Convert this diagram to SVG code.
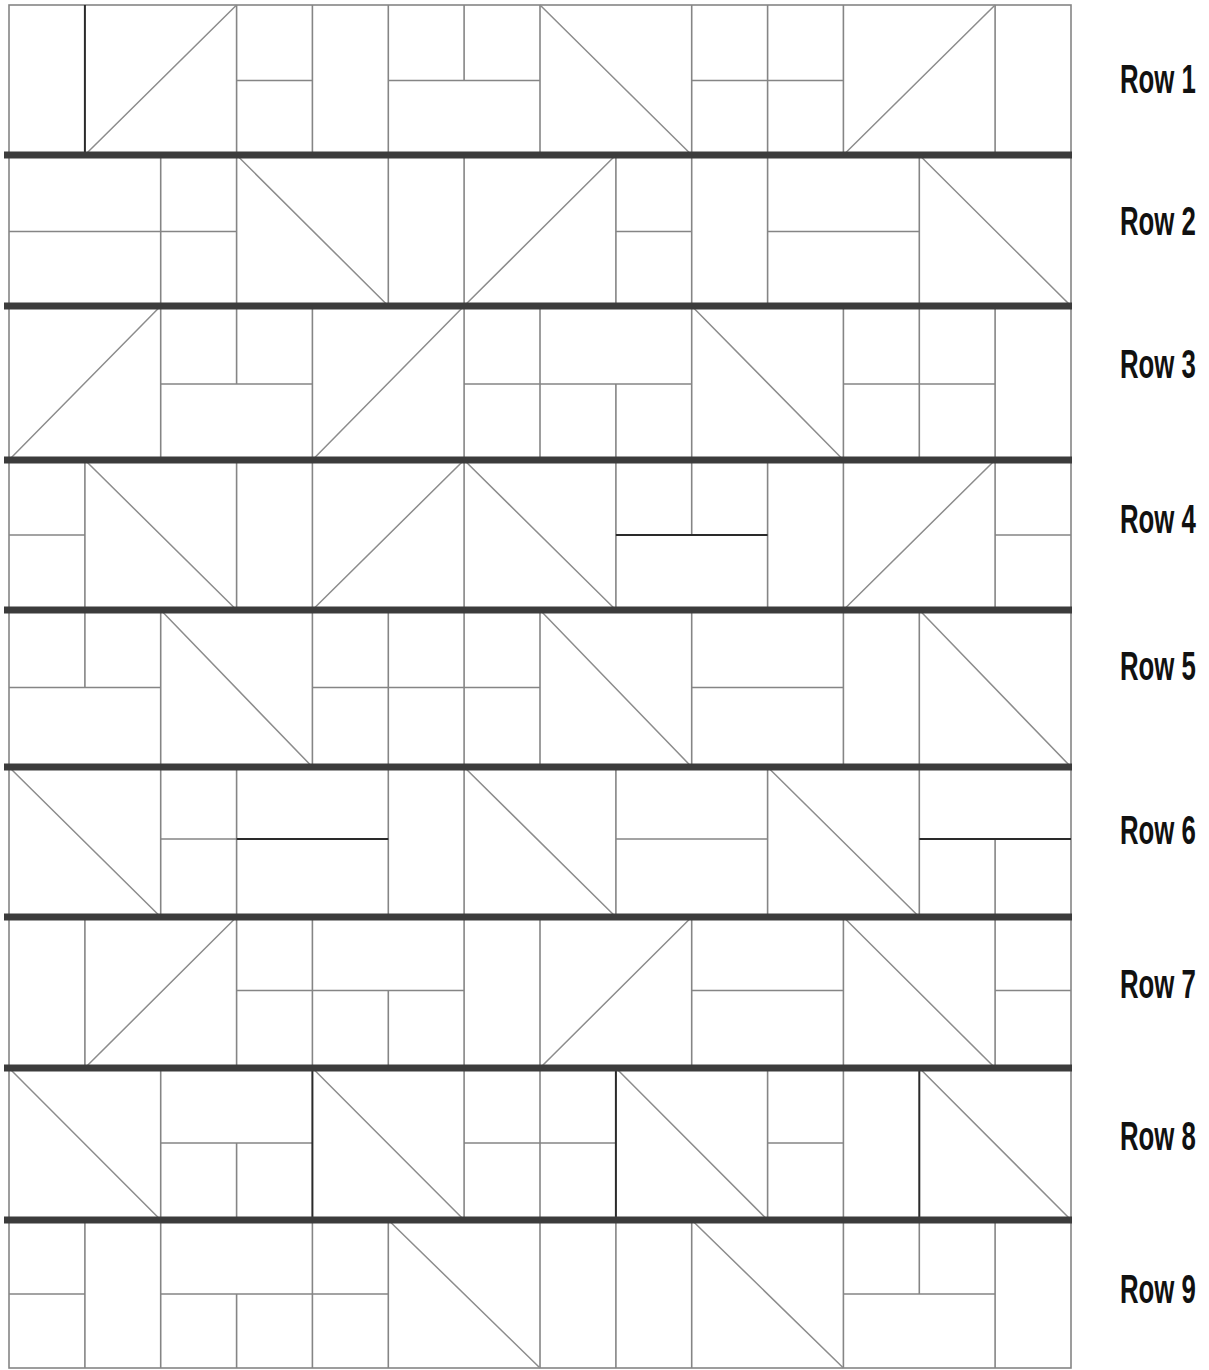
<svg xmlns="http://www.w3.org/2000/svg" width="1209" height="1370" viewBox="0 0 1209 1370">
<style>
.t{stroke:#858585;stroke-width:1.6;fill:none}
.d{stroke:#2a2a2a;stroke-width:2;fill:none}
.g{stroke:#8c8c8c;stroke-width:1.5;fill:none}
.sep{stroke:#3c3c3c;stroke-width:7;fill:none}
.lbl{font-family:"Liberation Sans",Arial,sans-serif;font-weight:bold;font-size:40px;fill:#111}
</style>
<rect width="1209" height="1370" fill="#ffffff"/>
<rect id="border" x="9" y="5" width="1062" height="1363" class="t"/>
<g id="row-1">
<path class="t" d="M236.6 5V155M312.4 5V155M388.3 5V155M540 5V155M691.7 5V155M767.6 5V155M843.4 5V155M995.1 5V155M464.1 5V80.5M236.6 80.5H312.4M388.3 80.5H540M691.7 80.5H843.4"/>
<path class="d" d="M84.9 5V155"/>
<path class="g" d="M84.9 155L236.6 5M540 5L691.7 155M843.4 155L995.1 5"/>
</g>
<g id="row-2">
<path class="t" d="M160.7 155V306M236.6 155V306M388.3 155V306M464.1 155V306M615.9 155V306M691.7 155V306M767.6 155V306M919.3 155V306M9 231.5H236.6M615.9 231.5H691.7M767.6 231.5H919.3"/>
<path class="g" d="M236.6 155L388.3 306M464.1 306L615.9 155M919.3 155L1071 306"/>
</g>
<g id="row-3">
<path class="t" d="M160.7 306V460M312.4 306V460M464.1 306V460M540 306V460M691.7 306V460M843.4 306V460M919.3 306V460M995.1 306V460M236.6 306V384M615.9 384V460M160.7 384H312.4M464.1 384H691.7M843.4 384H995.1"/>
<path class="g" d="M9 460L160.7 306M312.4 460L464.1 306M691.7 306L843.4 460"/>
</g>
<g id="row-4">
<path class="t" d="M84.9 460V610M236.6 460V610M312.4 460V610M464.1 460V610M615.9 460V610M767.6 460V610M843.4 460V610M995.1 460V610M691.7 460V535M9 535H84.9M995.1 535H1071"/>
<path class="d" d="M615.9 535H767.6"/>
<path class="g" d="M84.9 460L236.6 610M312.4 610L464.1 460M464.1 460L615.9 610M843.4 610L995.1 460"/>
</g>
<g id="row-5">
<path class="t" d="M160.7 610V767M312.4 610V767M388.3 610V767M464.1 610V767M540 610V767M691.7 610V767M843.4 610V767M919.3 610V767M84.9 610V687.5M9 687.5H160.7M312.4 687.5H540M691.7 687.5H843.4"/>
<path class="g" d="M160.7 610L312.4 767M540 610L691.7 767M919.3 610L1071 767"/>
</g>
<g id="row-6">
<path class="t" d="M160.7 767V917M236.6 767V917M388.3 767V917M464.1 767V917M615.9 767V917M767.6 767V917M919.3 767V917M995.1 839V917M160.7 839H236.6M615.9 839H767.6"/>
<path class="d" d="M236.6 839H388.3M919.3 839H1071"/>
<path class="g" d="M9 767L160.7 917M464.1 767L615.9 917M767.6 767L919.3 917"/>
</g>
<g id="row-7">
<path class="t" d="M84.9 917V1068M236.6 917V1068M312.4 917V1068M464.1 917V1068M540 917V1068M691.7 917V1068M843.4 917V1068M995.1 917V1068M388.3 990.5V1068M236.6 990.5H464.1M691.7 990.5H843.4M995.1 990.5H1071"/>
<path class="g" d="M84.9 1068L236.6 917M540 1068L691.7 917M843.4 917L995.1 1068"/>
</g>
<g id="row-8">
<path class="t" d="M160.7 1068V1220M464.1 1068V1220M540 1068V1220M767.6 1068V1220M843.4 1068V1220M236.6 1143V1220M160.7 1143H312.4M464.1 1143H615.9M767.6 1143H843.4"/>
<path class="d" d="M312.4 1068V1220M615.9 1068V1220M919.3 1068V1220"/>
<path class="g" d="M9 1068L160.7 1220M312.4 1068L464.1 1220M615.9 1068L767.6 1220M919.3 1068L1071 1220"/>
</g>
<g id="row-9">
<path class="t" d="M84.9 1220V1368M160.7 1220V1368M312.4 1220V1368M388.3 1220V1368M540 1220V1368M615.9 1220V1368M691.7 1220V1368M843.4 1220V1368M995.1 1220V1368M236.6 1294V1368M919.3 1220V1294M9 1294H84.9M160.7 1294H388.3M843.4 1294H995.1"/>
<path class="g" d="M388.3 1220L540 1368M691.7 1220L843.4 1368"/>
</g>
<g id="separators">
<path class="sep" d="M4 155H1072M4 306H1072M4 460H1072M4 610H1072M4 767H1072M4 917H1072M4 1068H1072M4 1220H1072"/>
</g>
<g id="labels">
<text class="lbl" transform="translate(1120 92.5) scale(0.645 1)">Row 1</text>
<text class="lbl" transform="translate(1120 234.5) scale(0.645 1)">Row 2</text>
<text class="lbl" transform="translate(1120 377.5) scale(0.645 1)">Row 3</text>
<text class="lbl" transform="translate(1120 532.5) scale(0.645 1)">Row 4</text>
<text class="lbl" transform="translate(1120 679.5) scale(0.645 1)">Row 5</text>
<text class="lbl" transform="translate(1120 843.5) scale(0.645 1)">Row 6</text>
<text class="lbl" transform="translate(1120 997.5) scale(0.645 1)">Row 7</text>
<text class="lbl" transform="translate(1120 1149.5) scale(0.645 1)">Row 8</text>
<text class="lbl" transform="translate(1120 1302.5) scale(0.645 1)">Row 9</text>
</g>
</svg>
